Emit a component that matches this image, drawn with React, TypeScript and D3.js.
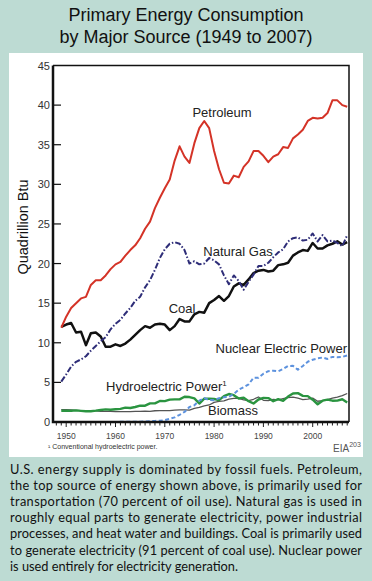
import React, { useEffect, useRef } from "react";
import * as d3 from "d3";

// annual consumption, quadrillion Btu, 1949-2007
const years = d3.range(1949, 2008);

const petroleum = [
  11.9, 13.3, 14.4, 15.0, 15.6, 15.8, 17.3, 17.9, 17.9, 18.5,
  19.3, 19.9, 20.2, 21.0, 21.7, 22.3, 23.2, 24.4, 25.3, 27.0,
  28.3, 29.5, 30.6, 33.0, 34.8, 33.5, 32.7, 35.2, 37.1, 38.0,
  37.1, 34.2, 31.9, 30.2, 30.1, 31.1, 30.9, 32.2, 32.9, 34.2,
  34.2, 33.6, 32.8, 33.5, 33.8, 34.7, 34.6, 35.8, 36.3, 36.9,
  38.0, 38.4, 38.3, 38.4, 39.0, 40.6, 40.6, 40.0, 39.8,
];
const naturalGas = [
  5.1, 6.0, 7.0, 7.6, 7.9, 8.3, 9.0, 9.6, 10.2, 10.7,
  11.7, 12.4, 12.9, 13.7, 14.4, 15.3, 15.8, 17.0, 17.9, 19.2,
  20.7, 21.8, 22.5, 22.7, 22.5, 21.7, 20.0, 20.3, 19.9, 20.0,
  20.7, 20.4, 19.9, 18.5, 17.4, 18.5, 17.8, 16.7, 17.7, 18.6,
  19.7, 19.7, 20.1, 20.8, 21.4, 21.8, 22.8, 23.2, 23.3, 22.9,
  23.0, 23.8, 22.8, 23.6, 22.8, 22.9, 22.6, 22.2, 23.6,
];
const coal = [
  12.0, 12.3, 12.5, 11.3, 11.4, 9.7, 11.2, 11.3, 10.8, 9.5,
  9.5, 9.8, 9.6, 9.9, 10.4, 11.0, 11.6, 12.1, 11.9, 12.3,
  12.4, 12.3, 11.6, 12.1, 13.0, 12.7, 12.7, 13.6, 13.9, 13.8,
  15.0, 15.4, 15.9, 15.3, 15.9, 17.1, 17.5, 17.3, 18.0, 18.8,
  19.1, 19.2, 19.0, 19.1, 19.8, 19.9, 20.1, 21.0, 21.4, 21.7,
  21.6, 22.6, 21.9, 21.9, 22.3, 22.5, 22.8, 22.4, 22.7,
];
const nuclear = [
  0, 0, 0, 0, 0, 0, 0, 0, 0, 0,
  0, 0.01, 0.02, 0.03, 0.04, 0.04, 0.04, 0.06, 0.09, 0.14,
  0.15, 0.24, 0.41, 0.58, 0.91, 1.27, 1.9, 2.11, 2.7, 3.02,
  2.78, 2.74, 3.01, 3.13, 3.2, 3.55, 4.08, 4.38, 4.75, 5.59,
  5.6, 6.1, 6.42, 6.48, 6.41, 6.69, 7.08, 7.09, 6.6, 7.07,
  7.61, 7.86, 8.03, 8.14, 7.96, 8.22, 8.16, 8.21, 8.41,
];
const hydro = [
  1.42, 1.42, 1.42, 1.47, 1.41, 1.36, 1.36, 1.43, 1.52, 1.59,
  1.55, 1.61, 1.66, 1.82, 1.77, 1.89, 2.06, 2.06, 2.35, 2.35,
  2.65, 2.63, 2.82, 2.86, 2.86, 3.18, 3.15, 2.98, 2.33, 2.94,
  2.93, 2.9, 2.76, 3.27, 3.53, 3.39, 2.97, 3.07, 2.63, 2.33,
  2.84, 3.05, 3.02, 2.62, 2.89, 2.68, 3.21, 3.59, 3.64, 3.3,
  3.27, 2.81, 2.24, 2.69, 2.83, 2.69, 2.7, 2.87, 2.45,
];
const biomass = [
  1.55, 1.56, 1.54, 1.48, 1.43, 1.4, 1.42, 1.42, 1.34, 1.34,
  1.33, 1.32, 1.3, 1.32, 1.32, 1.34, 1.33, 1.37, 1.34, 1.42,
  1.44, 1.43, 1.43, 1.5, 1.53, 1.54, 1.5, 1.71, 1.84, 2.04,
  2.15, 2.48, 2.6, 2.66, 2.9, 2.97, 2.97, 2.8, 2.71, 2.87,
  3.16, 2.74, 2.7, 2.85, 2.8, 2.94, 3.07, 3.13, 3.01, 2.83,
  2.89, 3.01, 2.62, 2.7, 2.81, 3.02, 3.15, 3.32, 3.6,
];

const yTicks = [0, 5, 10, 15, 20, 25, 30, 35, 40, 45];
const xTickLabels = [1950, 1960, 1970, 1980, 1990, 2000];

const caption = [
  "U.S. energy supply is dominated by fossil fuels. Petroleum,",
  "the top source of energy shown above, is primarily used for",
  "transportation (70 percent of oil use). Natural gas is used in",
  "roughly equal parts to generate electricity, power industrial",
  "processes, and heat water and buildings. Coal is primarily used",
  "to generate electricity (91 percent of coal use). Nuclear power",
  "is used entirely for electricity generation.",
];

function App() {
  const svgRef = useRef<SVGSVGElement>(null);

  useEffect(() => {
    const W = 372;
    const H = 581;
    const sans = "'Liberation Sans', Arial, sans-serif";

    const svg = d3.select(svgRef.current);
    svg.selectAll("*").remove();

    svg.append("rect").attr("width", W).attr("height", H).attr("fill", "#bddbd3");
    svg.append("rect").attr("x", 9).attr("y", 53).attr("width", 354).attr("height", 404).attr("fill", "#fff");

    // title
    const title = svg.append("text")
      .attr("text-anchor", "middle")
      .attr("font-family", sans)
      .attr("font-size", 18)
      .attr("fill", "#111");
    title.append("tspan").attr("x", 186).attr("y", 21).text("Primary Energy Consumption");
    title.append("tspan").attr("x", 186).attr("y", 42.5).text("by Major Source (1949 to 2007)");

    const plot = { left: 53, right: 349, top: 65.5, bottom: 422 };

    const x = d3.scaleLinear().domain([1950, 2000]).range([66.2, 312.7]);
    const y = d3.scaleLinear().domain([0, 45]).range([plot.bottom, plot.top]);

    // y ticks (inward) and labels
    const g = svg.append("g");
    yTicks.forEach((t) => {
      if (t > 0 && t < 45) {
        g.append("line")
          .attr("x1", plot.left).attr("x2", plot.left + 8)
          .attr("y1", y(t)).attr("y2", y(t))
          .attr("stroke", "#111").attr("stroke-width", 1.2);
      }
      g.append("text")
        .attr("x", 50).attr("y", y(t) + 4)
        .attr("text-anchor", "end")
        .attr("font-family", sans).attr("font-size", 11)
        .attr("fill", "#333")
        .text(t);
    });

    // x ticks, one per year
    d3.range(1948, 2008).forEach((yr) => {
      const major = yr % 10 === 0;
      g.append("line")
        .attr("x1", x(yr)).attr("x2", x(yr))
        .attr("y1", plot.bottom).attr("y2", plot.bottom + (major ? 5 : 3.5))
        .attr("stroke", "#222").attr("stroke-width", 1);
    });
    xTickLabels.forEach((yr) => {
      g.append("text")
        .attr("x", x(yr)).attr("y", 438.5)
        .attr("text-anchor", "middle")
        .attr("font-family", sans).attr("font-size", 8.5)
        .attr("fill", "#444")
        .text(yr);
    });

    svg.append("text")
      .attr("transform", "translate(28,227) rotate(-90)")
      .attr("text-anchor", "middle")
      .attr("font-family", sans).attr("font-size", 14.5)
      .attr("fill", "#111")
      .text("Quadrillion Btu");

    // series
    const line = d3.line<number>()
      .x((_, i) => x(years[i]))
      .y((d) => y(d));

    const series = [
      { values: biomass, color: "#555", width: 1.3, dash: null },
      { values: hydro, color: "#2a9440", width: 2.4, dash: null },
      { values: nuclear, color: "#5d92de", width: 2, dash: "4,2.5" },
      { values: coal, color: "#111", width: 2.5, dash: null },
      { values: naturalGas, color: "#2e2d78", width: 2, dash: "6,2,1.5,2" },
      { values: petroleum, color: "#d43327", width: 2, dash: null },
    ];
    series.forEach((s) => {
      svg.append("path")
        .attr("d", line(s.values))
        .attr("fill", "none")
        .attr("stroke", s.color)
        .attr("stroke-width", s.width)
        .attr("stroke-linejoin", "round")
        .attr("stroke-dasharray", s.dash);
    });

    // frame
    svg.append("path")
      .attr("d", `M${plot.left},${plot.top}H${plot.right}V${plot.bottom}`)
      .attr("fill", "none").attr("stroke", "#111").attr("stroke-width", 1.5);
    svg.append("path")
      .attr("d", `M${plot.left},${plot.top}V${plot.bottom}H${plot.right}`)
      .attr("fill", "none").attr("stroke", "#111").attr("stroke-width", 2.5);

    // series labels
    const labels = [
      { text: "Petroleum", x: 222, y: 117, anchor: "middle" },
      { text: "Natural Gas", x: 238, y: 256, anchor: "middle" },
      { text: "Coal", x: 182, y: 313, anchor: "middle" },
      { text: "Nuclear Electric Power", x: 347, y: 353, anchor: "end" },
      { text: "Biomass", x: 233, y: 415, anchor: "middle" },
    ];
    labels.forEach((l) => {
      svg.append("text")
        .attr("x", l.x).attr("y", l.y)
        .attr("text-anchor", l.anchor)
        .attr("font-family", sans).attr("font-size", 13)
        .attr("fill", "#222")
        .text(l.text);
    });
    const hl = svg.append("text")
      .attr("x", 106).attr("y", 391)
      .attr("font-family", sans).attr("font-size", 13)
      .attr("fill", "#222");
    hl.append("tspan").text("Hydroelectric Power");
    hl.append("tspan").attr("font-size", 8).attr("dy", -5).text("1");

    // footnote and source
    svg.append("text")
      .attr("x", 48).attr("y", 449)
      .attr("font-family", sans).attr("font-size", 7)
      .attr("fill", "#333")
      .text("¹ Conventional hydroelectric power.");
    const src = svg.append("text")
      .attr("x", 333).attr("y", 452)
      .attr("font-family", sans).attr("font-size", 10)
      .attr("fill", "#555");
    src.append("tspan").text("EIA");
    src.append("tspan").attr("font-size", 7).attr("dy", -5).text("203");

    // caption, justified
    caption.forEach((ln, i) => {
      const t = svg.append("text")
        .attr("x", 10).attr("y", 473.5 + i * 16.2)
        .attr("font-family", "Lato, 'Open Sans', sans-serif")
        .attr("font-size", 12.8)
        .attr("fill", "#111")
        .text(ln);
      if (i < caption.length - 1) {
        t.attr("textLength", 352).attr("lengthAdjust", "spacing");
      }
    });
  }, []);

  return (
    <svg
      ref={svgRef}
      width={372}
      height={581}
      style={{ position: "absolute", left: 0, top: 0, display: "block" }}
    />
  );
}

export default App;
